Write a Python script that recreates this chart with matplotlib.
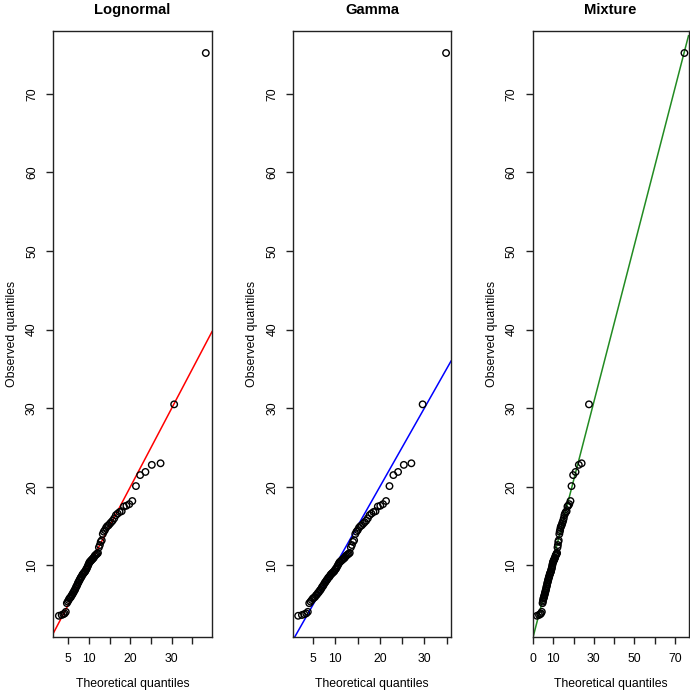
import matplotlib
matplotlib.use("Agg")
import matplotlib.pyplot as plt

plt.rcParams["font.family"] = ["Liberation Sans", "DejaVu Sans"]

# sorted sample (observed quantiles), shared by all three panels
observed = [
    3.6, 3.7, 3.8, 3.9, 4.1, 5.2, 5.4, 5.6, 5.8, 5.9,
    6.0, 6.2, 6.3, 6.5, 6.6, 6.8, 6.9, 7.1, 7.3, 7.4,
    7.6, 7.8, 7.9, 8.1, 8.2, 8.4, 8.5, 8.6, 8.8, 8.9,
    9.0, 9.1, 9.2, 9.3, 9.5, 9.6, 9.8, 10.0, 10.2, 10.4,
    10.5, 10.6, 10.7, 10.8, 10.9, 11.0, 11.2, 11.3, 11.4, 11.5,
    11.6, 12.3, 12.6, 13.0, 13.2, 14.0, 14.3, 14.5, 14.8, 15.0,
    15.1, 15.3, 15.5, 15.7, 16.0, 16.4, 16.6, 16.8, 16.9, 17.5,
    17.6, 17.8, 18.2, 20.1, 21.5, 21.9, 22.8, 23.0, 30.5, 75.2,
]

theo_lognormal = [
    2.72, 3.40, 3.81, 4.13, 4.40, 4.65, 4.87, 5.08, 5.27, 5.46,
    5.64, 5.81, 5.98, 6.14, 6.30, 6.46, 6.62, 6.77, 6.92, 7.07,
    7.22, 7.36, 7.51, 7.66, 7.80, 7.95, 8.10, 8.24, 8.39, 8.55,
    8.69, 8.84, 9.00, 9.16, 9.31, 9.47, 9.62, 9.79, 9.95, 10.11,
    10.29, 10.46, 10.63, 10.82, 10.99, 11.18, 11.36, 11.56, 11.77, 11.97,
    12.17, 12.40, 12.63, 12.84, 13.09, 13.34, 13.58, 13.85, 14.14, 14.41,
    14.72, 15.03, 15.37, 15.72, 16.11, 16.51, 16.94, 17.40, 17.91, 18.45,
    19.05, 19.74, 20.48, 21.36, 22.37, 23.65, 25.19, 27.31, 30.60, 38.25,
]

theo_gamma = [
    1.67, 2.52, 3.05, 3.48, 3.84, 4.16, 4.45, 4.72, 4.98, 5.22,
    5.46, 5.68, 5.89, 6.11, 6.31, 6.51, 6.71, 6.90, 7.09, 7.28,
    7.46, 7.65, 7.83, 8.02, 8.20, 8.38, 8.56, 8.74, 8.92, 9.10,
    9.28, 9.46, 9.65, 9.83, 10.01, 10.20, 10.38, 10.58, 10.76, 10.95,
    11.15, 11.35, 11.54, 11.75, 11.95, 12.16, 12.37, 12.59, 12.81, 13.03,
    13.26, 13.50, 13.74, 13.99, 14.24, 14.50, 14.77, 15.05, 15.33, 15.64,
    15.94, 16.26, 16.60, 16.95, 17.32, 17.71, 18.13, 18.58, 19.05, 19.56,
    20.12, 20.73, 21.41, 22.18, 23.06, 24.11, 25.40, 27.10, 29.63, 34.89,
]

theo_mixture = [
    2.0, 3.0, 3.6, 4.0, 4.4, 4.75, 4.9, 5.05, 5.2, 5.35,
    5.5, 5.65, 5.8, 5.95, 6.1, 6.25, 6.4, 6.55, 6.7, 6.85,
    7.0, 7.15, 7.3, 7.45, 7.6, 7.75, 7.9, 8.05, 8.2, 8.35,
    8.5, 8.65, 8.8, 8.95, 9.1, 9.25, 9.4, 9.55, 9.7, 9.9,
    10.05, 10.2, 10.4, 10.6, 10.7, 10.9, 11.1, 11.3, 11.5, 11.7,
    11.9, 12.1, 12.3, 12.5, 12.7, 13.0, 13.2, 13.4, 13.6, 13.9,
    14.1, 14.4, 14.6, 14.9, 15.2, 15.5, 15.8, 16.2, 16.6, 17.0,
    17.4, 17.9, 18.5, 19.0, 19.8, 21.0, 22.6, 24.0, 27.6, 74.6,
]

titles = ["Lognormal", "Gamma", "Mixture"]
theoretical = [theo_lognormal, theo_gamma, theo_mixture]
line_colors = ["red", "blue", "forestgreen"]
ref_intercepts = [0.0, 0.0, 0.8]
ref_slopes = [1.0, 1.0, 1.0]

x_ticks = [
    [5, 10, 15, 20, 25, 30, 35],
    [5, 10, 15, 20, 25, 30, 35],
    [0, 10, 20, 30, 40, 50, 60, 70],
]
x_ticklabels = [
    ["5", "10", "", "20", "", "30", ""],
    ["5", "10", "", "20", "", "30", ""],
    ["0", "10", "", "30", "", "50", "", "70"],
]
y_ticks = [10, 20, 30, 40, 50, 60, 70]
x_limits = [(1.30, 39.75), (0.58, 36.0), (-0.2, 76.6)]
y_limits = (0.9, 78.0)

# layout in pixels
W, H = 690, 693
boxes = [(53, 212), (293.3, 451), (532.5, 688.5)]
top, bottom = 31, 637
px = 72 / 100  # points per pixel at dpi 100

fig = plt.figure(figsize=(W / 100, H / 100), dpi=100)

for k in range(3):
    l, r = boxes[k]
    ax = fig.add_axes([l / W, (H - bottom) / H, (r - l) / W, (bottom - top) / H])
    ax.scatter(theoretical[k], observed, s=(6.5 * px) ** 2, facecolors="none",
               edgecolors="black", linewidths=1.0, zorder=3)
    ax.axline((0, ref_intercepts[k]), slope=ref_slopes[k], color=line_colors[k],
              lw=1.1, zorder=2)
    ax.set_xlim(*x_limits[k])
    ax.set_ylim(*y_limits)
    ax.set_xticks(x_ticks[k])
    ax.set_xticklabels(x_ticklabels[k])
    ax.set_yticks(y_ticks)
    ax.set_yticklabels([str(v) for v in y_ticks], rotation=90, va="center")
    ax.tick_params(length=7 * px, width=1.0, labelsize=8.8, color="#222222")
    ax.tick_params(axis="x", pad=9 * px)
    ax.tick_params(axis="y", pad=8 * px)
    for s in ax.spines.values():
        s.set_linewidth(1.0)
        s.set_color("#222222")
    ax.set_title(titles[k], fontsize=10.6, fontweight="bold", pad=17 * px)
    ax.annotate("Theoretical quantiles", xy=(0.5, 0), xycoords="axes fraction",
                xytext=(0, -47), textcoords="offset pixels",
                ha="center", va="center", fontsize=8.8)
    ax.annotate("Observed quantiles", xy=(0, 0.5), xycoords="axes fraction",
                xytext=(-41, 0), textcoords="offset pixels",
                ha="center", va="center", rotation=90, fontsize=8.8)

fig.savefig("out.png", dpi=100)
